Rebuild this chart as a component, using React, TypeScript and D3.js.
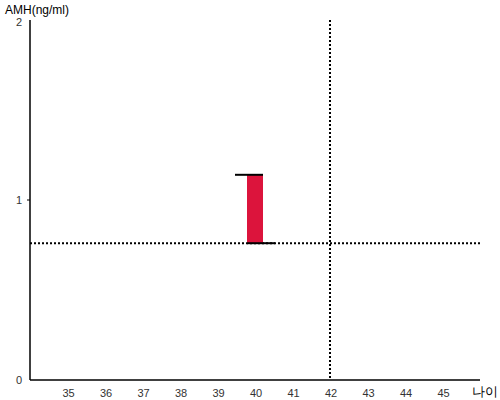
import React from 'react';
import * as d3 from 'd3';

// x axis ticks (age) and y axis ticks (AMH)
const ageTicks = [35, 36, 37, 38, 39, 40, 41, 42, 43, 44, 45];
const amhTicks = [0, 1, 2];

// the single range bar
const barAge = [40];
const barLow = [0.76];
const barHigh = [1.14];

// reference lines
const refAge = 42;
const refAmh = 0.76;

const App = () => {
    const width = 500;
    const height = 400;
    const left = 30;
    const right = 480;
    const top = 20;
    const bottom = 380;

    const x = d3.scaleLinear().domain([34, 46]).range([left, right]);
    const y = d3.scaleLinear().domain([0, 2]).range([bottom, top]);

    const font = 'Arial, "Liberation Sans", sans-serif';
    const barW = 16;

    return (
        <svg width={width} height={height} style={{ position: 'absolute', left: 0, top: 0 }}>
            {/* axes */}
            <line x1={left} x2={left} y1={top} y2={bottom} stroke="#000" strokeWidth={1.5} />
            <line x1={left} x2={right} y1={bottom} y2={bottom} stroke="#000" strokeWidth={1.5} />
            <line x1={left - 3} x2={left} y1={y(1)} y2={y(1)} stroke="#000" />

            {amhTicks.map(t => (
                <text key={t} x={19} y={y(t) + (t === 2 ? 6 : 4)} textAnchor="middle" fontSize={11} fontFamily={font} fill="#333">
                    {t}
                </text>
            ))}
            {ageTicks.map(t => (
                <text key={t} x={x(t) + 1} y={bottom + 17} textAnchor="middle" fontSize={11} fontFamily={font} fill="#333">
                    {t}
                </text>
            ))}

            <text x={5} y={14} fontSize={12} fontFamily={font} fill="#000">AMH(ng/ml)</text>
            <text x={472} y={bottom + 16} fontSize={13} fontFamily={font} fill="#000">나이</text>

            {/* reference lines */}
            <line x1={x(refAge)} x2={x(refAge)} y1={top} y2={bottom} stroke="#000" strokeWidth={2} strokeDasharray="2,2" />
            <line x1={left} x2={right} y1={y(refAmh)} y2={y(refAmh)} stroke="#000" strokeWidth={2} strokeDasharray="2,2" />

            {/* range bar */}
            {barAge.map((a, i) => (
                <g key={a}>
                    <rect x={x(a) - barW / 2} y={y(barHigh[i])} width={barW} height={y(barLow[i]) - y(barHigh[i])} fill="#dc143c" />
                    <line x1={x(a) - 20} x2={x(a) + barW / 2} y1={y(barHigh[i])} y2={y(barHigh[i])} stroke="#000" strokeWidth={2} />
                    <line x1={x(a) - barW / 2} x2={x(a) + 20} y1={y(barLow[i])} y2={y(barLow[i])} stroke="#000" strokeWidth={2} />
                </g>
            ))}
        </svg>
    );
};

export default App;
